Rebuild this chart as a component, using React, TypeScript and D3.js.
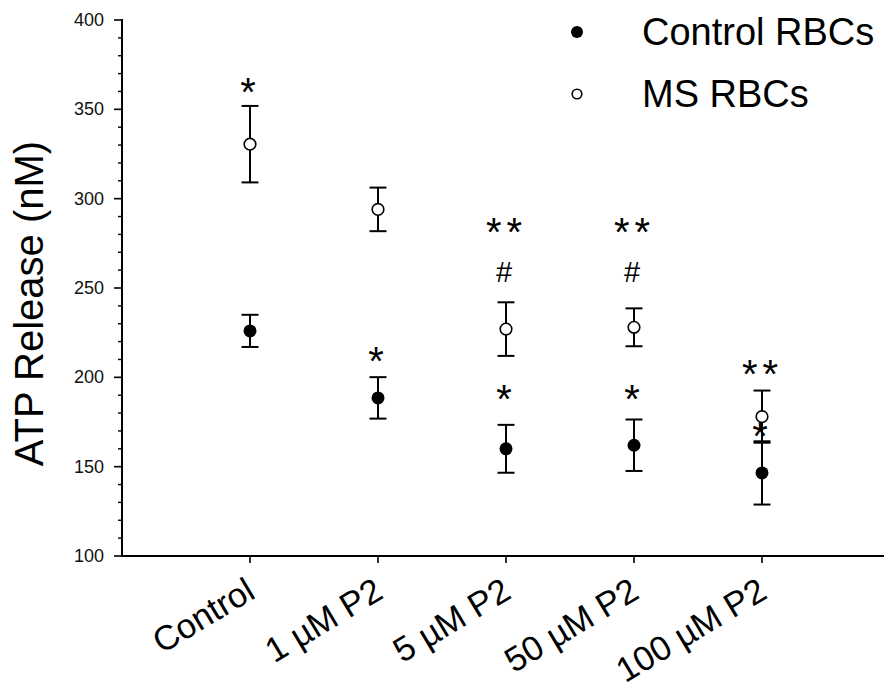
import React from "react";
import * as d3 from "d3";

const categories = ["Control", "1 µM P2", "5 µM P2", "50 µM P2", "100 µM P2"];
const controlMean = [226, 188.5, 160, 162, 146.5];
const controlErr = [9, 11.6, 13.4, 14.4, 17.7];
const msMean = [330.5, 294, 227, 228, 178];
const msErr = [21.4, 12.2, 15, 10.6, 14.6];
const yTicks = [100, 150, 200, 250, 300, 350, 400];
// annotations: category index, symbol, value at which the symbol is centred
const annCategory = [0, 1, 2, 2, 2, 3, 3, 3, 4, 4];
const annText = ["*", "*", "**", "#", "*", "**", "#", "*", "**", "*"];
const annValue = [364.7, 214.3, 286.2, 259.2, 192.9, 286.2, 259.2, 192.9, 206.9, 172.0];
const legendLabels = ["Control RBCs", "MS RBCs"];

const W = 884;
const H = 688;
const FONT = "'Liberation Sans', Arial, sans-serif";

export default function App() {
  const x = d3.scaleLinear().domain([-1, 5]).range([122, 890]);
  const y = d3.scaleLinear().domain([100, 400]).range([556, 20]);
  const minorTicks = d3.range(100, 401, 10).filter((v) => v % 50 !== 0);

  const series = [
    { mean: controlMean, err: controlErr, filled: true },
    { mean: msMean, err: msErr, filled: false },
  ];

  const capHalf = 8.5;
  const starSize = 40;
  const hashSize = 29;

  return (
    <svg
      width={W}
      height={H}
      style={{ position: "absolute", left: 0, top: 0, background: "#fff" }}
      fontFamily={FONT}
    >
      <rect x={0} y={0} width={W} height={H} fill="#fff" />
      {/* y axis */}
      <line x1={122} x2={122} y1={y(400) - 1} y2={y(100)} stroke="#000" strokeWidth={2} />
      {yTicks.map((t) => (
        <g key={"yt" + t}>
          <line x1={114} x2={122} y1={y(t)} y2={y(t)} stroke="#000" strokeWidth={1.6} />
          <text
            x={104}
            y={y(t)}
            textAnchor="end"
            dominantBaseline="central"
            fontSize={18}
            fill="#111"
          >
            {t}
          </text>
        </g>
      ))}
      {minorTicks.map((t) => (
        <line key={"ym" + t} x1={118} x2={122} y1={y(t)} y2={y(t)} stroke="#000" strokeWidth={1.4} />
      ))}
      {/* x axis */}
      <line x1={121} x2={W} y1={y(100)} y2={y(100)} stroke="#000" strokeWidth={2} />
      {categories.map((c, i) => (
        <g key={"xc" + i}>
          <line x1={x(i)} x2={x(i)} y1={y(100)} y2={y(100) + 7} stroke="#000" strokeWidth={1.6} />
          <text
            transform={`translate(${x(i) + 7},${y(100) + 41}) rotate(-31)`}
            textAnchor="end"
            fontSize={34.5}
            fill="#000"
          >
            {c}
          </text>
        </g>
      ))}
      {/* y title */}
      <text
        transform={`translate(43,${(y(400) + y(100)) / 2 + 15.5}) rotate(-90)`}
        textAnchor="middle"
        fontSize={40}
        fill="#000"
      >
        ATP Release (nM)
      </text>
      {/* error bars and points */}
      {series.map((s, si) =>
        categories.map((c, i) => {
          const cx = x(i);
          const top = y(s.mean[i] + s.err[i]);
          const bot = y(s.mean[i] - s.err[i]);
          return (
            <g key={`p${si}-${i}`}>
              <line x1={cx} x2={cx} y1={top} y2={bot} stroke="#000" strokeWidth={2} />
              <line x1={cx - capHalf} x2={cx + capHalf} y1={top} y2={top} stroke="#000" strokeWidth={2} />
              <line x1={cx - capHalf} x2={cx + capHalf} y1={bot} y2={bot} stroke="#000" strokeWidth={2} />
            </g>
          );
        })
      )}
      {series.map((s, si) =>
        categories.map((c, i) => (
          <circle
            key={`m${si}-${i}`}
            cx={x(i)}
            cy={y(s.mean[i])}
            r={s.filled ? 6.5 : 5.8}
            fill={s.filled ? "#000" : "#fff"}
            stroke="#000"
            strokeWidth={s.filled ? 0 : 1.6}
          />
        ))
      )}
      {/* annotations */}
      {annText.map((t, k) => {
        const cx = x(annCategory[k]);
        const cy = y(annValue[k]);
        if (t === "#") {
          return (
            <text key={"a" + k} x={cx - 2} y={cy + 0.36 * hashSize} textAnchor="middle" fontSize={hashSize} fill="#000">
              #
            </text>
          );
        }
        const chars = t.split("");
        const gap = 20.5;
        return (
          <g key={"a" + k}>
            {chars.map((ch, j) => (
              <text
                key={j}
                x={cx + (j - (chars.length - 1) / 2) * gap - 2}
                y={cy + 0.575 * starSize}
                textAnchor="middle"
                fontSize={starSize}
                fill="#000"
              >
                {ch}
              </text>
            ))}
          </g>
        );
      })}
      {/* legend */}
      {legendLabels.map((l, i) => (
        <g key={"lg" + i}>
          <circle
            cx={577}
            cy={32 + i * 62}
            r={i === 0 ? 6 : 4.8}
            fill={i === 0 ? "#000" : "#fff"}
            stroke="#000"
            strokeWidth={i === 0 ? 0 : 1.6}
          />
          <text x={642} y={45 + i * 62} fontSize={38} fill="#000">
            {l}
          </text>
        </g>
      ))}
    </svg>
  );
}
